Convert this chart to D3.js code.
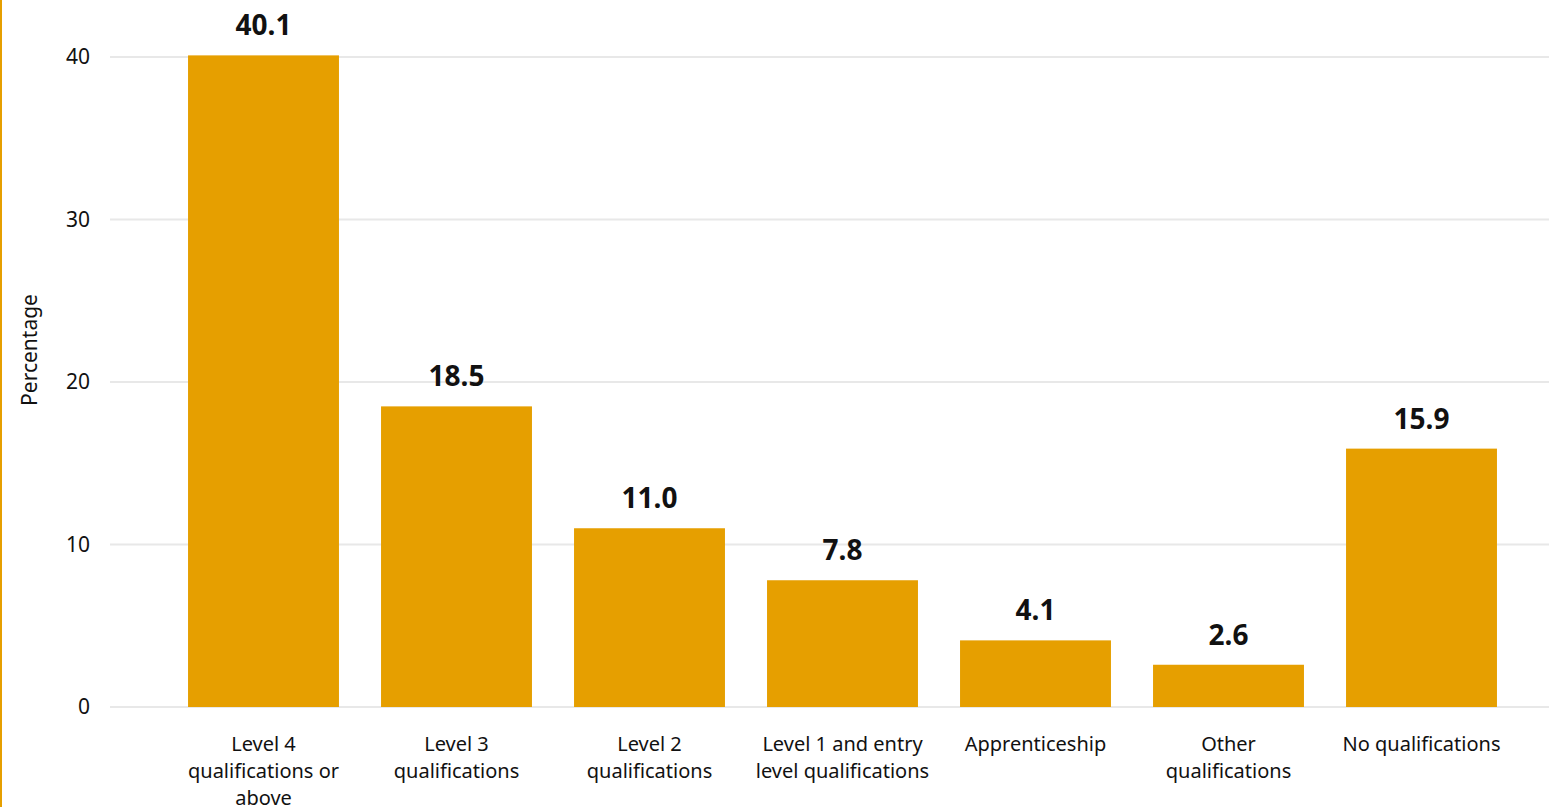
<!DOCTYPE html>
<html>
<head>
<meta charset="utf-8">
<script src="https://cdn.jsdelivr.net/npm/d3@7"></script>
<style>
  body { margin: 0; background: #fff; }
  svg { display: block; font-family: "Segoe UI", "Noto Sans", sans-serif; }
</style>
</head>
<body>
<div id="chart"></div>
<script>
var categories = [
  ["Level 4", "qualifications or", "above"],
  ["Level 3", "qualifications"],
  ["Level 2", "qualifications"],
  ["Level 1 and entry", "level qualifications"],
  ["Apprenticeship"],
  ["Other", "qualifications"],
  ["No qualifications"]
];
var values = [40.1, 18.5, 11.0, 7.8, 4.1, 2.6, 15.9];
var yTicks = [0, 10, 20, 30, 40];

var width = 1549, height = 807;
var svg = d3.select("#chart").append("svg")
  .attr("width", width)
  .attr("height", height);

// left border
svg.append("rect").attr("x", 0).attr("y", 0).attr("width", 2).attr("height", height).attr("fill", "#E69F00");

var data = values.map(function (v, i) { return { label: categories[i], value: v, id: i }; });

var x = d3.scaleBand()
  .domain(data.map(function (d) { return d.id; }))
  .range([167, 1518])
  .paddingInner(0.218)
  .paddingOuter(0.109);

var y = d3.scaleLinear().domain([0, 40]).range([707, 57]);

// gridlines
svg.append("g").selectAll("line")
  .data(yTicks)
  .enter().append("line")
  .attr("x1", 110).attr("x2", width)
  .attr("y1", function (d) { return y(d); })
  .attr("y2", function (d) { return y(d); })
  .attr("stroke", "#e8e8e8")
  .attr("stroke-width", 2);

// y tick labels
svg.append("g").selectAll("text")
  .data(yTicks)
  .enter().append("text")
  .attr("x", 90)
  .attr("y", function (d) { return y(d); })
  .attr("dy", "0.35em")
  .attr("text-anchor", "end")
  .attr("font-size", 21)
  .attr("fill", "#111")
  .text(function (d) { return d; });

svg.append("text")
  .attr("transform", "translate(37,350) rotate(-90)")
  .attr("text-anchor", "middle")
  .attr("font-size", 21)
  .attr("fill", "#111")
  .text("Percentage");

// bars
svg.append("g").selectAll("rect")
  .data(data)
  .enter().append("rect")
  .attr("x", function (d) { return x(d.id); })
  .attr("y", function (d) { return y(d.value); })
  .attr("width", x.bandwidth())
  .attr("height", function (d) { return y(0) - y(d.value); })
  .attr("fill", "#E69F00");

// value labels
svg.append("g").selectAll("text")
  .data(data)
  .enter().append("text")
  .attr("x", function (d) { return x(d.id) + x.bandwidth() / 2; })
  .attr("y", function (d) { return y(d.value) - 20; })
  .attr("text-anchor", "middle")
  .attr("font-size", 28)
  .attr("font-weight", "bold")
  .attr("fill", "#111")
  .text(function (d) { return d.value.toFixed(1); });

// category labels
var cat = svg.append("g").selectAll("text")
  .data(data)
  .enter().append("text")
  .attr("x", function (d) { return x(d.id) + x.bandwidth() / 2; })
  .attr("y", 751)
  .attr("text-anchor", "middle")
  .attr("font-size", 20)
  .attr("fill", "#111");

cat.selectAll("tspan")
  .data(function (d) { return d.label.map(function (t) { return { t: t, cx: x(d.id) + x.bandwidth() / 2 }; }); })
  .enter().append("tspan")
  .attr("x", function (d) { return d.cx; })
  .attr("dy", function (d, i) { return i === 0 ? 0 : 27; })
  .text(function (d) { return d.t; });
</script>
</body>
</html>
